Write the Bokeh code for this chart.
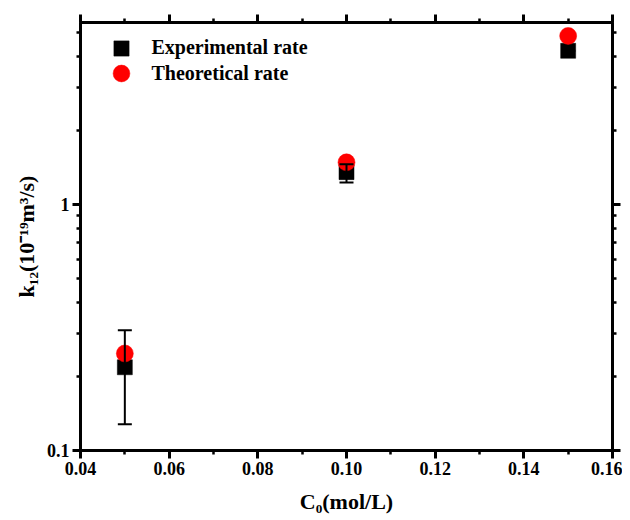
from bokeh.plotting import figure
from bokeh.models import (Range1d, FixedTicker, LinearAxis, LogAxis, Whisker,
                          ColumnDataSource, Legend, LegendItem, TeeHead)
from bokeh.embed import file_html
from bokeh.resources import INLINE

# ---- data ----
conc = [0.05, 0.10, 0.15]
exp_rate = [0.218, 1.355, 4.22]
exp_upper = [0.308, 1.46, 4.22]
exp_lower = [0.128, 1.23, 4.22]
theo_rate = [0.248, 1.485, 4.85]

x_ticks = [0.04, 0.06, 0.08, 0.10, 0.12, 0.14, 0.16]
x_tick_labels = ["0.04", "0.06", "0.08", "0.10", "0.12", "0.14", "0.16"]
x_minor = [0.05, 0.07, 0.09, 0.11, 0.13, 0.15]
y_ticks = [0.1, 1]
y_tick_labels = ["0.1", "1"]
y_minor = [0.2, 0.3, 0.4, 0.5, 0.6, 0.7, 0.8, 0.9, 2, 3, 4, 5]

x_title = "C\u2080(mol/L)"
y_title = "k\u2081\u2082(10\u207b\u00b9\u2079m\u00b3/s)"

FONT = "Liberation Serif"

p = figure(x_range=Range1d(0.04, 0.16), y_range=Range1d(0.1, 5.5),
           y_axis_type="log", frame_width=532, frame_height=428,
           min_border_left=80, min_border_right=10, min_border_top=22,
           min_border_bottom=62, output_backend="svg", toolbar_location=None)
p.grid.visible = False
p.outline_line_color = "black"
p.outline_line_width = 3
p.background_fill_color = "white"
p.border_fill_color = "white"

xt = FixedTicker(ticks=x_ticks, minor_ticks=x_minor)
yt = FixedTicker(ticks=y_ticks, minor_ticks=y_minor)


def style(ax, show):
    ax.axis_line_width = 3
    ax.axis_line_color = "black"
    ax.major_tick_line_width = 3
    ax.minor_tick_line_width = 2.5
    ax.major_tick_out = 8
    ax.major_tick_in = 0
    ax.minor_tick_out = 4
    ax.minor_tick_in = 0
    ax.major_label_text_font = FONT
    ax.major_label_text_font_style = "bold"
    ax.major_label_text_color = "black"
    ax.axis_label_text_font = FONT
    ax.axis_label_text_font_style = "bold"
    ax.axis_label_text_font_size = "22px"
    ax.axis_label_text_color = "black"
    if show:
        ax.major_label_text_font_size = "18px"
        ax.major_label_standoff = 3
    else:
        ax.major_label_text_font_size = "0px"
        ax.major_label_standoff = 0


xa = p.xaxis[0]
xa.ticker = xt
xa.major_label_overrides = {v: s for v, s in zip(x_ticks, x_tick_labels)}
style(xa, True)
xa.axis_label = x_title
xa.axis_label_standoff = 11

ya = p.yaxis[0]
ya.ticker = yt
ya.major_label_overrides = {v: s for v, s in zip(y_ticks, y_tick_labels)}
style(ya, True)
ya.axis_label = y_title
ya.axis_label_standoff = 5

top = LinearAxis(ticker=xt, major_label_overrides={v: "" for v in x_ticks})
style(top, False)
p.add_layout(top, "above")
right = LogAxis(ticker=yt, major_label_overrides={v: "" for v in y_ticks})
style(right, False)
p.add_layout(right, "right")

src = ColumnDataSource(dict(x=conc, exp=exp_rate, up=exp_upper, lo=exp_lower, th=theo_rate))

r_exp = p.scatter("x", "exp", source=src, marker="square", size=15,
                  fill_color="black", line_color="black", line_width=0.5)
r_th = p.scatter("x", "th", source=src, marker="circle", size=17,
                 fill_color="#FF0000", line_color="#FF0000", line_width=0.5)

wh = Whisker(source=src, base="x", upper="up", lower="lo", line_width=2,
             line_color="black", level="overlay",
             upper_head=TeeHead(size=14, line_width=2, line_color="black"),
             lower_head=TeeHead(size=14, line_width=2, line_color="black"))
p.add_layout(wh)


def mk_legend(item, loc, gw, standoff):
    return Legend(items=[item], location=loc, glyph_width=gw, glyph_height=gw,
                  label_standoff=standoff, padding=0, margin=0, spacing=0,
                  border_line_alpha=0, background_fill_alpha=0,
                  label_text_font=FONT, label_text_font_style="bold",
                  label_text_font_size="20px", label_text_color="black")


leg1 = mk_legend(LegendItem(label="Experimental rate", renderers=[r_exp]), (21.5, 428 - 25.5 - 19), 38, 12)
leg2 = mk_legend(LegendItem(label="Theoretical rate", renderers=[r_th]), (19.5, 428 - 51 - 21), 42, 10)
p.add_layout(leg1, "center")
p.add_layout(leg2, "center")

open("out.html", "w").write(file_html(p, INLINE))
